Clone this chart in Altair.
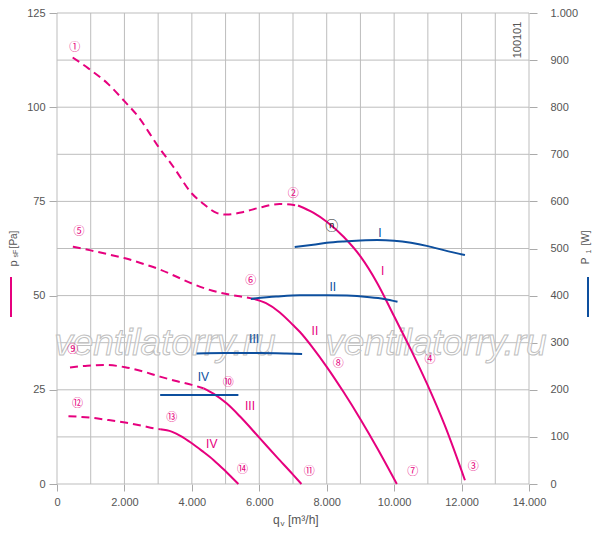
import altair as alt
import pandas as pd

PINK = "#E6007E"
BLUE = "#0D4F9E"
FONT = "Liberation Sans"
GRID = "#bdbdbd"

# ---------------- data (q in m3/h, pressure in Pa, power in W) ----------------
I_dash_q = [465, 930, 1500, 2020, 2400, 3000, 3450, 4000, 4350, 4750, 5030, 5530, 6030, 6600, 7150]
I_dash_p = [113.2, 110.3, 106.3, 101.4, 97.6, 89.6, 84.2, 77.1, 74.3, 71.9, 71.5, 72.2, 73.4, 74.3, 73.9]
I_sol_q = [7150, 7600, 8000, 8500, 9000, 9500, 10000, 10500, 11000, 11500, 12100]
I_sol_p = [73.9, 72.0, 69.6, 65.6, 60.4, 53.3, 44.5, 35.6, 26.1, 15.6, 1.0]

II_dash_q = [470, 1000, 1500, 2020, 2500, 3060, 3500, 4000, 4500, 5030, 5500, 5800]
II_dash_p = [63.0, 62.0, 61.0, 59.9, 58.6, 56.9, 55.2, 53.2, 51.6, 50.4, 49.7, 49.2]
II_sol_q = [5800, 6200, 6600, 7000, 7200, 7600, 8000, 8500, 9000, 9500, 10080]
II_sol_p = [49.2, 48.0, 45.6, 42.2, 40.4, 36.0, 31.1, 24.4, 17.2, 9.5, 0.0]

III_dash_q = [385, 900, 1400, 2020, 2500, 3055, 3500, 4000, 4350]
III_dash_p = [30.9, 31.4, 31.6, 31.0, 30.0, 28.5, 27.4, 26.3, 25.4]
III_sol_q = [4350, 4640, 5030, 5430, 6020, 6515, 7000, 7250]
III_sol_p = [25.4, 24.0, 21.4, 17.9, 12.1, 7.2, 2.5, 0.0]

IV_dash_q = [340, 1000, 1500, 2020, 2500, 2860, 3060]
IV_dash_p = [18.0, 17.6, 17.0, 16.3, 15.5, 14.8, 14.5]
IV_sol_q = [3060, 3400, 3700, 4000, 4300, 4640, 5000, 5380]
IV_sol_p = [14.5, 13.9, 12.6, 10.8, 8.8, 6.4, 3.4, 0.0]

PI_q = [7050, 7600, 8000, 8500, 9000, 9500, 10000, 10500, 11000, 11500, 12100]
PI_w = [503, 508, 512, 515, 517, 518, 516.5, 512, 505, 496, 486]
PII_q = [5750, 6500, 7200, 8000, 8600, 9200, 9700, 10100]
PII_w = [393, 398, 401, 401, 400, 397, 393, 387]
PIII_q = [4140, 5000, 6000, 6800, 7270]
PIII_w = [277, 278, 278, 277, 276]
PIV_q = [3060, 4200, 5380]
PIV_w = [189, 189, 189]

circ_text = ["①", "②", "③", "④", "⑤", "⑥", "⑦", "⑧", "⑨", "⑩", "⑪", "⑫", "⑬", "⑭"]
circ_q = [530, 7010, 12350, 11065, 650, 5745, 10550, 8345, 465, 5080, 7485, 605, 3400, 5500]
circ_p = [115.6, 76.9, 4.6, 32.9, 66.8, 53.8, 3.1, 31.8, 35.5, 26.7, 3.3, 21.1, 17.4, 3.7]

n_text = ["ⓝ"]
n_q = [8150]
n_p = [68.4]

roman = ["I", "II", "III", "IV"]
pink_q = [9660, 7650, 5725, 4590]
pink_p = [56.6, 40.6, 20.7, 10.6]
blue_q = [9580, 8180, 5845, 4340]
blue_w = [533, 419, 307, 228]

grid_q = list(range(0, 14001, 1000))
grid_p = [i * 12.5 for i in range(11)]
left_ticks = [0, 25, 50, 75, 100, 125]
right_ticks = list(range(0, 1001, 100))
bottom_ticks = list(range(0, 14001, 2000))

wm_text = ["ventilatorry.ru", "ventilatorry.ru"]
wm_q = [3200, 11240]
wm_p = [34.2, 34.2]


def frame(curves):
    rows = []
    for name, qs, vs in curves:
        for q, v in zip(qs, vs):
            rows.append({"curve": name, "q": q, "v": v})
    return pd.DataFrame(rows)


dash_df = frame([("I", I_dash_q, I_dash_p), ("II", II_dash_q, II_dash_p),
                 ("III", III_dash_q, III_dash_p), ("IV", IV_dash_q, IV_dash_p)])
sol_df = frame([("I", I_sol_q, I_sol_p), ("II", II_sol_q, II_sol_p),
                ("III", III_sol_q, III_sol_p), ("IV", IV_sol_q, IV_sol_p)])
pow_df = frame([("I", PI_q, PI_w), ("II", PII_q, PII_w),
                ("III", PIII_q, PIII_w), ("IV", PIV_q, PIV_w)])

W, H = 472, 471
LABEL_EXPR = "replace(format(datum.value, ','), ',', '.')"

x_scale = alt.Scale(domain=[0, 14000], nice=False, zero=False)
yl_scale = alt.Scale(domain=[0, 125], nice=False)
yr_scale = alt.Scale(domain=[0, 1000], nice=False)

common_axis = dict(title=None, grid=False, domain=False, tickColor="#aaaaaa",
                   labelFont=FONT, labelFontSize=11, labelColor="#555555")
x_axis = alt.Axis(values=bottom_ticks, labelExpr=LABEL_EXPR, tickSize=7, labelPadding=5,
                  labelFlush=False, **common_axis)
yl_axis = alt.Axis(values=left_ticks, orient="left", tickSize=8, labelPadding=4, **common_axis)
yr_axis = alt.Axis(values=right_ticks, orient="right", labelExpr=LABEL_EXPR, tickSize=8,
                   labelPadding=13, labelAlign="left", **common_axis)


def X():
    return alt.X("q:Q", scale=x_scale, axis=x_axis)


def YL():
    return alt.Y("v:Q", scale=yl_scale, axis=yl_axis)


def YR():
    return alt.Y("v:Q", scale=yr_scale, axis=yr_axis)


one = pd.DataFrame({"a": [0]})

vgrid = alt.Chart(pd.DataFrame({"q": grid_q})).mark_rule(color=GRID, strokeWidth=1).encode(
    x=X(), y=alt.value(0), y2=alt.value(H))
hgrid = alt.Chart(pd.DataFrame({"v": grid_p})).mark_rule(color=GRID, strokeWidth=1).encode(
    y=YL(), x=alt.value(0), x2=alt.value(W))

wm = alt.Chart(pd.DataFrame({"t": wm_text, "q": wm_q, "v": wm_p})).mark_text(
    font=FONT, fontSize=37, fontStyle="italic", fill="#ffffff", fillOpacity=0.6,
    stroke="#c0c0c0", strokeWidth=1, baseline="alphabetic", align="center").encode(
    x=X(), y=YL(), text="t:N")

dash = alt.Chart(dash_df).mark_line(color=PINK, strokeWidth=2, strokeDash=[8, 5],
                                    interpolate="monotone").encode(
    x=X(), y=YL(), detail="curve:N")
solid = alt.Chart(sol_df).mark_line(color=PINK, strokeWidth=2, interpolate="monotone").encode(
    x=X(), y=YL(), detail="curve:N")

circ = alt.Chart(pd.DataFrame({"t": circ_text, "q": circ_q, "v": circ_p})).mark_text(
    color=PINK, fontSize=11, font="Noto Sans CJK JP").encode(x=X(), y=YL(), text="t:N")
nmark = alt.Chart(pd.DataFrame({"t": n_text, "q": n_q, "v": n_p})).mark_text(
    color="#222222", fontSize=13, font="Noto Sans CJK JP").encode(x=X(), y=YL(), text="t:N")
pink_lab = alt.Chart(pd.DataFrame({"t": roman, "q": pink_q, "v": pink_p})).mark_text(
    color=PINK, fontSize=12, font=FONT).encode(x=X(), y=YL(), text="t:N")


def piece(text, x, y, size, angle=0, color="#555555", align="center", baseline="middle"):
    return alt.Chart(one).mark_text(text=text, font=FONT, fontSize=size, angle=angle,
                                    color=color, align=align, baseline=baseline).encode(
        x=alt.value(x), y=alt.value(y))


titles = [
    piece("[Pa]", -43, 226.5, 10, 270),
    piece("sF", -41, 240.5, 7, 270),
    piece("p", -43, 250.5, 11, 270),
    piece("[W]", 528.5, 225, 10, 270),
    piece("1", 531.5, 238.5, 7, 270),
    piece("P", 528.5, 248, 10, 270),
    piece("q", 216, 511, 12, 0, align="left", baseline="alphabetic"),
    piece("v", 223.5, 513, 8, 0, align="left", baseline="alphabetic"),
    piece("[m³/h]", 231, 511, 12, 0, align="left", baseline="alphabetic"),
    piece("100101", 461, 27, 11, 270),
]

pink_key = alt.Chart(one).mark_rule(color=PINK, strokeWidth=2).encode(
    x=alt.value(-46), y=alt.value(264), y2=alt.value(304))
blue_key = alt.Chart(one).mark_rule(color=BLUE, strokeWidth=2).encode(
    x=alt.value(531), y=alt.value(264), y2=alt.value(304))

power = alt.Chart(pow_df).mark_line(color=BLUE, strokeWidth=2, interpolate="monotone").encode(
    x=X(), y=YR(), detail="curve:N")
blue_lab = alt.Chart(pd.DataFrame({"t": roman, "q": blue_q, "v": blue_w})).mark_text(
    color=BLUE, fontSize=12, font=FONT).encode(x=X(), y=YR(), text="t:N")

left = alt.layer(hgrid, vgrid, wm, dash, solid, circ, nmark, pink_lab, pink_key, blue_key, *titles)
right = alt.layer(power, blue_lab)

chart = alt.layer(left, right).resolve_scale(y="independent").properties(
    width=W, height=H,
    autosize=alt.AutoSizeParams(type="none"),
    padding={"left": 49, "top": 5, "right": 63, "bottom": 43},
).configure_view(stroke=None)

chart.save("out.html", embed_options={"renderer": "svg", "actions": False})
